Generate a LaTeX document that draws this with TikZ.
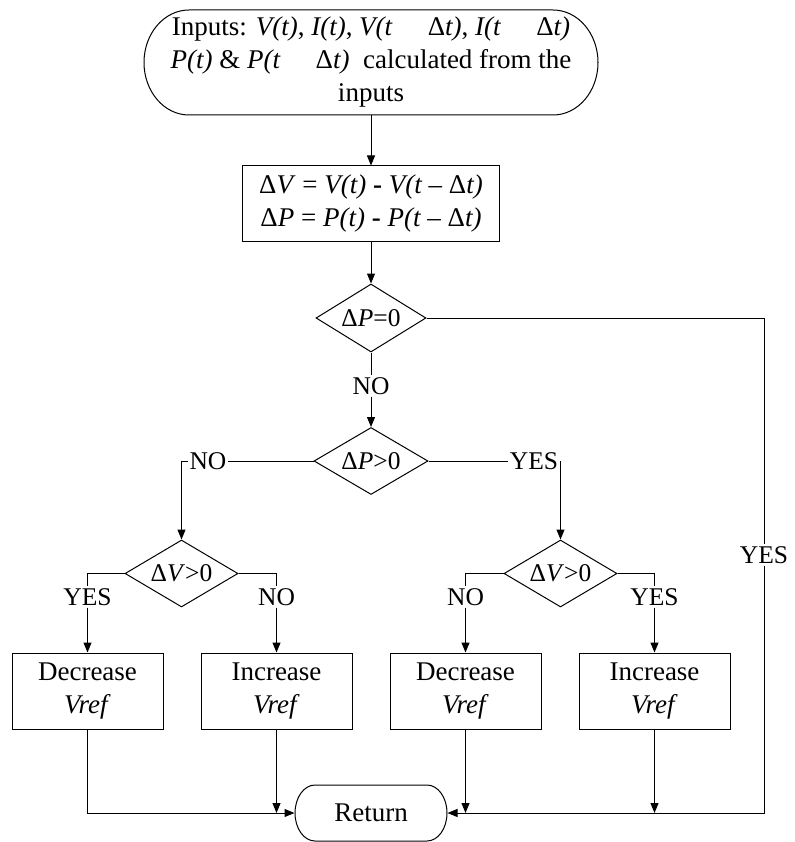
\documentclass[tikz,border=0pt]{standalone}
\usepackage{fontspec}
\setmainfont{Liberation Serif}
\usetikzlibrary{shapes.geometric,arrows.meta}
\begin{document}
\begin{tikzpicture}[x=1pt,y=-1pt,
  line width=1pt,
  arr/.style={-{Triangle[length=10pt,width=8pt]}},
  bigtext/.style={font=\fontsize{27}{33}\selectfont},
  lbl/.style={font=\fontsize{25.5}{28}\selectfont, inner sep=1.5pt},
  dec/.style={diamond, draw, minimum width=113pt, minimum height=67pt, inner sep=0pt, aspect=1.7, font=\fontsize{25.5}{28}\selectfont},
  act/.style={rectangle, draw, minimum width=151pt, minimum height=76pt, align=center, bigtext, inner sep=0pt},
  term/.style={align=center, inner sep=0pt},
]
\useasboundingbox (0,0) rectangle (794,842);

% start terminator
\node[term, bigtext, minimum width=455pt, minimum height=105pt] (start) at (371,62.5)
  {Inputs: \textit{V(t)}, \textit{I(t)}, \textit{V(t}\hspace{1.3em}Δ\textit{t)}, \textit{I(t}\hspace{1.3em}Δ\textit{t)}\\
   \textit{P(t)} \& \textit{P(t}\hspace{1.3em}Δ\textit{t)}\ \ calculated from the\\
   inputs};
\draw (189,10) -- (553,10) arc[start angle=-90,end angle=90,x radius=45,y radius=52.5]
  -- (189,115) arc[start angle=90,end angle=270,x radius=45,y radius=52.5] -- cycle;

% process
\node[draw, bigtext, align=center, minimum width=257pt, minimum height=75pt, inner sep=0pt] (proc) at (371,203.5)
  {Δ\textit{V} = \textit{V(t)} \textbf{-} \textit{V(t –} Δ\textit{t)}\\
   Δ\textit{P} = \textit{P(t)} \textbf{-} \textit{P(t –} Δ\textit{t)}};

% decisions
\node[dec, minimum width=110pt, minimum height=68pt] (d1) at (371,318) {Δ\textit{P}=0};
\node[dec, minimum width=114pt] (d2) at (371,461) {Δ\textit{P}>0};
\node[dec] (d3) at (181.5,573.5) {Δ\textit{V}>0};
\node[dec] (d4) at (560.5,573.5) {Δ\textit{V}>0};

% labels
\node[lbl] (no1) at (371,386) {NO};
\node[lbl] (noL) at (208,461) {NO};
\node[lbl] (yesL) at (534,461) {YES};
\node[lbl] (yes1) at (87.5,597) {YES};
\node[lbl] (no2) at (276.5,597) {NO};
\node[lbl] (no3) at (465.5,597) {NO};
\node[lbl] (yes4) at (654.5,597) {YES};
\node[lbl] (yesR) at (764,555) {YES};

% actions
\node[act] (b1) at (87.5,691) {Decrease\\\textit{Vref}};
\node[act] (b2) at (276.5,691) {Increase\\\textit{Vref}};
\node[act] (b3) at (465.5,691) {Decrease\\\textit{Vref}};
\node[act] (b4) at (654.5,691) {Increase\\\textit{Vref}};

% return terminator
\node[term, bigtext, minimum width=152pt, minimum height=56pt] (ret) at (371,813) {Return};
\draw (315,785) -- (427,785) arc[start angle=-90,end angle=90,x radius=20,y radius=28]
  -- (315,841) arc[start angle=90,end angle=270,x radius=20,y radius=28] -- cycle;

% connectors
\draw[arr] (start.south) -- (proc.north);
\draw[arr] (proc.south) -- (d1.north);
\draw (d1.south) -- (no1.north);
\draw[arr] (no1.south) -- (d2.north);
\draw (d2.west) -- (noL.east);
\draw[arr] (noL.west) -| (d3.north);
\draw (d2.east) -- (yesL.west);
\draw[arr] (yesL.east) -| (d4.north);
\draw (d3.west) -| (yes1.north);
\draw (d3.east) -| (no2.north);
\draw (d4.west) -| (no3.north);
\draw (d4.east) -| (yes4.north);
\draw[arr] (yes1.south) -- (b1.north);
\draw[arr] (no2.south) -- (b2.north);
\draw[arr] (no3.south) -- (b3.north);
\draw[arr] (yes4.south) -- (b4.north);
\draw (d1.east) -| (yesR.north);
\draw[arr] (yesR.south) |- (ret.east);
\draw[arr] (b1.south) |- (ret.west);
\draw[arr] (b2.south) -- (b2.south |- ret.west);
\draw[arr] (b3.south) -- (b3.south |- ret.east);
\draw[arr] (b4.south) -- (b4.south |- ret.east);
\end{tikzpicture}
\end{document}
